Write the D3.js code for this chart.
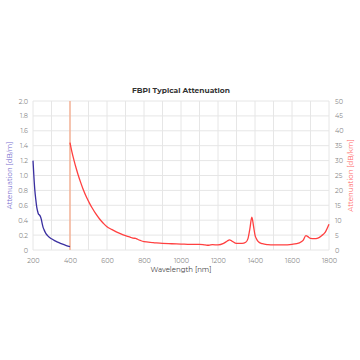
<!DOCTYPE html>
<html><head><meta charset="utf-8">
<script src="https://cdn.jsdelivr.net/npm/d3@7"></script>
<style>body{margin:0;background:#fff;} svg{display:block;}</style>
</head><body>
<svg id="c" width="360" height="360"></svg>
<script>
const title = "FBPI Typical Attenuation";
const xLabel = "Wavelength [nm]";
const yLeftLabel = "Attenuation [dB/m]";
const yRightLabel = "Attenuation [dB/km]";
const xTicks = [200,400,600,800,1000,1200,1400,1600,1800];
const xGrid = [200,300,400,500,600,700,800,900,1000,1100,1200,1300,1400,1500,1600,1700,1800];
const leftTicks = [0,0.2,0.4,0.6,0.8,1.0,1.2,1.4,1.6,1.8,2.0];
const rightTicks = [0,5,10,15,20,25,30,35,40,45,50];
const cutoff = 400;

const uvWl = [200,205,210,215,220,225,230,235,240,245,250,255,260,270,280,300,320,340,360,380,400];
const uvAtt = [1.2,0.98,0.8,0.68,0.58,0.52,0.48,0.47,0.45,0.41,0.35,0.3,0.27,0.22,0.19,0.15,0.122,0.098,0.078,0.06,0.045];

const visWl = [400,410,422,433,445,458,472,490,508,520,540,560,580,600,625,650,675,700,725,740,755,765,780,800,850,900,950,1000,1050,1100,1130,1150,1170,1200,1230,1250,1262,1275,1300,1330,1350,1362,1372,1383,1392,1400,1410,1420,1440,1470,1500,1550,1600,1640,1660,1675,1690,1700,1720,1740,1760,1780,1800];
const visAtt = [36,33,30,27.5,25,22.6,20.2,17.6,15.4,14.1,12.1,10.4,9.0,7.8,6.9,6.1,5.4,4.8,4.3,4.0,3.9,3.6,3.2,2.8,2.5,2.2,2.1,2.0,1.9,1.9,1.7,1.6,1.8,1.7,2.2,3.0,3.4,3.0,2.2,2.2,2.6,3.8,7.0,11,8,5,3.5,2.7,2.1,1.8,1.7,1.7,1.9,2.4,3.2,4.8,4.3,3.9,3.8,4.0,4.8,6.0,8.6];

const svg = d3.select("#c");
const m = {l:33, r:329, t:101, b:250};
const x = d3.scaleLinear().domain([200,1800]).range([m.l,m.r]);
const yL = d3.scaleLinear().domain([0,2]).range([m.b,m.t]);
const yR = d3.scaleLinear().domain([0,50]).range([m.b,m.t]);
const font = "Montserrat, 'Open Sans', sans-serif";

const g = svg.append("g");
g.selectAll(".vg").data(xGrid).join("line")
  .attr("x1",d=>x(d)).attr("x2",d=>x(d)).attr("y1",m.t).attr("y2",m.b)
  .attr("stroke","#e6e6e6").attr("stroke-width",1);
g.selectAll(".hg").data(leftTicks).join("line")
  .attr("x1",m.l).attr("x2",m.r).attr("y1",d=>yL(d)).attr("y2",d=>yL(d))
  .attr("stroke","#e6e6e6").attr("stroke-width",1);

const styleAxis = s=>{s.select(".domain").remove(); s.selectAll("text").attr("fill","#888").style("font-size","6.5px").style("font-family",font);};
const axB = d3.axisBottom(x).tickValues(xTicks).tickFormat(d3.format("d")).tickSize(0).tickPadding(8);
svg.append("g").attr("transform",`translate(0,${m.b})`).call(axB).call(styleAxis);
const axL = d3.axisLeft(yL).tickValues(leftTicks).tickFormat(d=>d===0?"0":d3.format(".1f")(d)).tickSize(0).tickPadding(5);
svg.append("g").attr("transform",`translate(${m.l},0)`).call(axL).call(styleAxis);
const axR = d3.axisRight(yR).tickValues(rightTicks).tickFormat(d3.format("d")).tickSize(0).tickPadding(6);
svg.append("g").attr("transform",`translate(${m.r},0)`).call(axR).call(styleAxis);

svg.append("line").attr("x1",x(cutoff)).attr("x2",x(cutoff)).attr("y1",m.t).attr("y2",m.b)
  .attr("stroke","#f7a583").attr("stroke-width",1.2);

const lineL = d3.line().x((d,i)=>x(uvWl[i])).y(d=>yL(d)).curve(d3.curveMonotoneX);
svg.append("path").attr("d",lineL(uvAtt)).attr("fill","none").attr("stroke","#3a2fa0").attr("stroke-width",1.3);
const lineR = d3.line().x((d,i)=>x(visWl[i])).y(d=>yR(d)).curve(d3.curveMonotoneX);
svg.append("path").attr("d",lineR(visAtt)).attr("fill","none").attr("stroke","#ff4040").attr("stroke-width",1.3);

svg.append("text").attr("x",181).attr("y",93).attr("text-anchor","middle")
  .attr("fill","#333").style("font-size","7.5px").style("font-weight","bold").style("font-family",font).text(title);
svg.append("text").attr("x",181).attr("y",272).attr("text-anchor","middle")
  .attr("fill","#444").style("font-size","7px").style("font-family",font).text(xLabel);
svg.append("text").attr("transform",`translate(12,${(m.t+m.b)/2}) rotate(-90)`).attr("text-anchor","middle")
  .attr("fill","#7a70d0").style("font-size","7px").style("font-family",font).text(yLeftLabel);
svg.append("text").attr("transform",`translate(353,${(m.t+m.b)/2}) rotate(-90)`).attr("text-anchor","middle")
  .attr("fill","#ff6b6b").style("font-size","7px").style("font-family",font).text(yRightLabel);
</script>
</body></html>
